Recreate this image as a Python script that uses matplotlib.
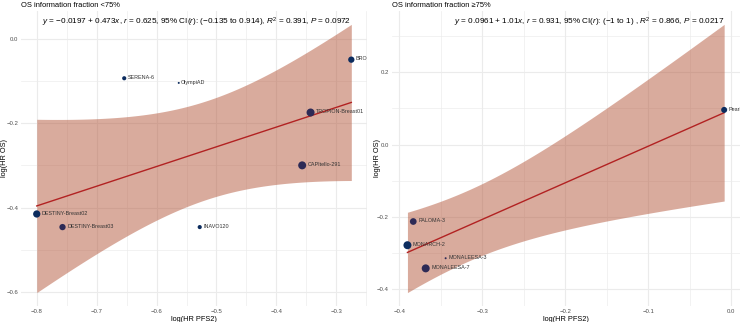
import numpy as np
import matplotlib
matplotlib.use("Agg")
import matplotlib.pyplot as plt
from matplotlib.ticker import MultipleLocator, FuncFormatter
from matplotlib.transforms import offset_copy

plt.rcParams['font.family'] = ['Liberation Sans', 'DejaVu Sans']
plt.rcParams['mathtext.fontset'] = 'custom'
plt.rcParams['mathtext.rm'] = 'Liberation Sans'
plt.rcParams['mathtext.it'] = 'Liberation Sans:italic'

# ---- data: panel 1 (OS information fraction <75%)
trials1 = ["SERENA-6", "OlympiAD", "BROCADE3", "TROPION-Breast01", "CAPItello-291",
           "DESTINY-Breast02", "DESTINY-Breast03", "INAVO120"]
pfs2_1 = [-0.654, -0.563, -0.275, -0.343, -0.357, -0.800, -0.757, -0.528]
os_1 = [-0.094, -0.105, -0.050, -0.175, -0.300, -0.415, -0.446, -0.446]
weight_1 = [30, 25, 45, 64, 64, 55, 45, 30]
group_1 = [0, 0, 0, 1, 1, 0, 1, 0]
eq_1 = ("$y$ = \u22120.0197 + 0.473$x$, $r$ = 0.625, 95% CI($r$): (\u22120.135 to 0.914), "
        "$R^2$ = 0.391, $P$ = 0.0972")
title_1 = "OS information fraction <75%"

# ---- data: panel 2 (OS information fraction >=75%)
trials2 = ["Pearl", "PALOMA-3", "MONARCH-2", "MONALEESA-3", "MONALEESA-7"]
pfs2_2 = [-0.0085, -0.383, -0.390, -0.344, -0.368]
os_2 = [0.096, -0.2125, -0.278, -0.314, -0.342]
weight_2 = [16, 20, 29, 5.5, 29]
group_2 = [0, 1, 0, 1, 1]
eq_2 = ("$y$ = 0.0961 + 1.01$x$, $r$ = 0.931, 95% CI($r$): (\u22121 to 1) , "
        "$R^2$ = 0.866, $P$ = 0.0217")
title_2 = "OS information fraction \u226575%"

T975 = {1: 12.706, 2: 4.303, 3: 3.182, 4: 2.776, 5: 2.571, 6: 2.447, 7: 2.365, 8: 2.306}

COLORS = ['#0c2c5e', '#2d2a56']
BAND = '#b5583c'
LINE = '#b22222'
GRID = '#ebebeb'
TICKC = '#4d4d4d'


def wfit(x, y, w):
    x, y, w = map(lambda a: np.asarray(a, float), (x, y, w))
    W = w.sum()
    xm = (w * x).sum() / W
    ym = (w * y).sum() / W
    sxx = (w * (x - xm) ** 2).sum()
    sxy = (w * (x - xm) * (y - ym)).sum()
    b = sxy / sxx
    a = ym - b * xm
    n = len(x)
    s2 = (w * (y - a - b * x) ** 2).sum() / (n - 2)
    xs = np.linspace(x.min(), x.max(), 200)
    se = np.sqrt(s2 * (1.0 / W + (xs - xm) ** 2 / sxx))
    t = T975[n - 2]
    yh = a + b * xs
    return xs, yh, yh - t * se, yh + t * se


def fmt(v, p):
    if abs(v) < 1e-9:
        return "0.0"
    return ("%.1f" % v).replace('-', '\u2212')


def panel(fig, ax, trials, xv, yv, wv, gv, eq, title, ylab_x):
    xs, yh, lo, hi = wfit(xv, yv, wv)
    xmin, xmax = min(xv), max(xv)
    ymin = min(min(yv), lo.min()); ymax = max(max(yv), hi.max())
    dx = (xmax - xmin) * 0.05; dy = (ymax - ymin) * 0.05
    ax.set_xlim(xmin - dx, xmax + dx)
    ax.set_ylim(ymin - dy, ymax + dy)
    ax.fill_between(xs, lo, hi, color=BAND, alpha=0.5, lw=0, zorder=2)
    ax.plot(xs, yh, color=LINE, lw=1.0, zorder=3)
    w = np.asarray(wv, float)
    scaled = (w - w.min()) / (w.max() - w.min())
    diam_px = 2.0 + 6.0 * np.sqrt(scaled)
    sizes = (diam_px * 0.72) ** 2
    ax.scatter(xv, yv, s=sizes, c=[COLORS[g] for g in gv], zorder=4, lw=0)
    for t_, x_, y_, d in zip(trials, xv, yv, diam_px):
        tr = offset_copy(ax.transData, fig=fig, x=d * 0.36 + 1.0, y=0.6, units='points')
        ax.text(x_, y_, t_, transform=tr, fontsize=3.9, color='#333333',
                va='center', ha='left', zorder=5, clip_on=True)
    ax.xaxis.set_major_locator(MultipleLocator(0.1))
    ax.xaxis.set_minor_locator(MultipleLocator(0.05))
    ax.yaxis.set_major_locator(MultipleLocator(0.2))
    ax.yaxis.set_minor_locator(MultipleLocator(0.1))
    ax.grid(True, which='major', color=GRID, lw=0.8, zorder=0)
    ax.grid(True, which='minor', color=GRID, lw=0.45, zorder=0)
    ax.set_axisbelow(True)
    for s in ax.spines.values():
        s.set_visible(False)
    ax.tick_params(which='both', length=0, labelsize=4.3, labelcolor=TICKC, pad=2)
    ax.xaxis.set_major_formatter(FuncFormatter(fmt))
    ax.yaxis.set_major_formatter(FuncFormatter(fmt))
    ax.set_xlabel("log(HR PFS2)", fontsize=5.3, labelpad=1.5)
    ax.set_ylabel("log(HR OS)", fontsize=5.3)
    ax.yaxis.set_label_coords(ylab_x, 0.5)
    ax.text(0.955, 0.96, eq, transform=ax.transAxes, ha='right', va='center',
            fontsize=5.85, color='black', zorder=6)
    ax.set_title(title, loc='left', fontsize=5.4, pad=2.5)


fig = plt.figure(figsize=(7.4, 3.22), dpi=100)
ax1 = fig.add_axes([0.0284, 0.0497, 0.4676, 0.9163])
ax2 = fig.add_axes([0.5292, 0.0497, 0.4708, 0.9163])
panel(fig, ax1, trials1, pfs2_1, os_1, weight_1, group_1, eq_1, title_1, -0.038)
panel(fig, ax2, trials2, pfs2_2, os_2, weight_2, group_2, eq_2, title_2, -0.031)
fig.savefig("out.png", dpi=100)
